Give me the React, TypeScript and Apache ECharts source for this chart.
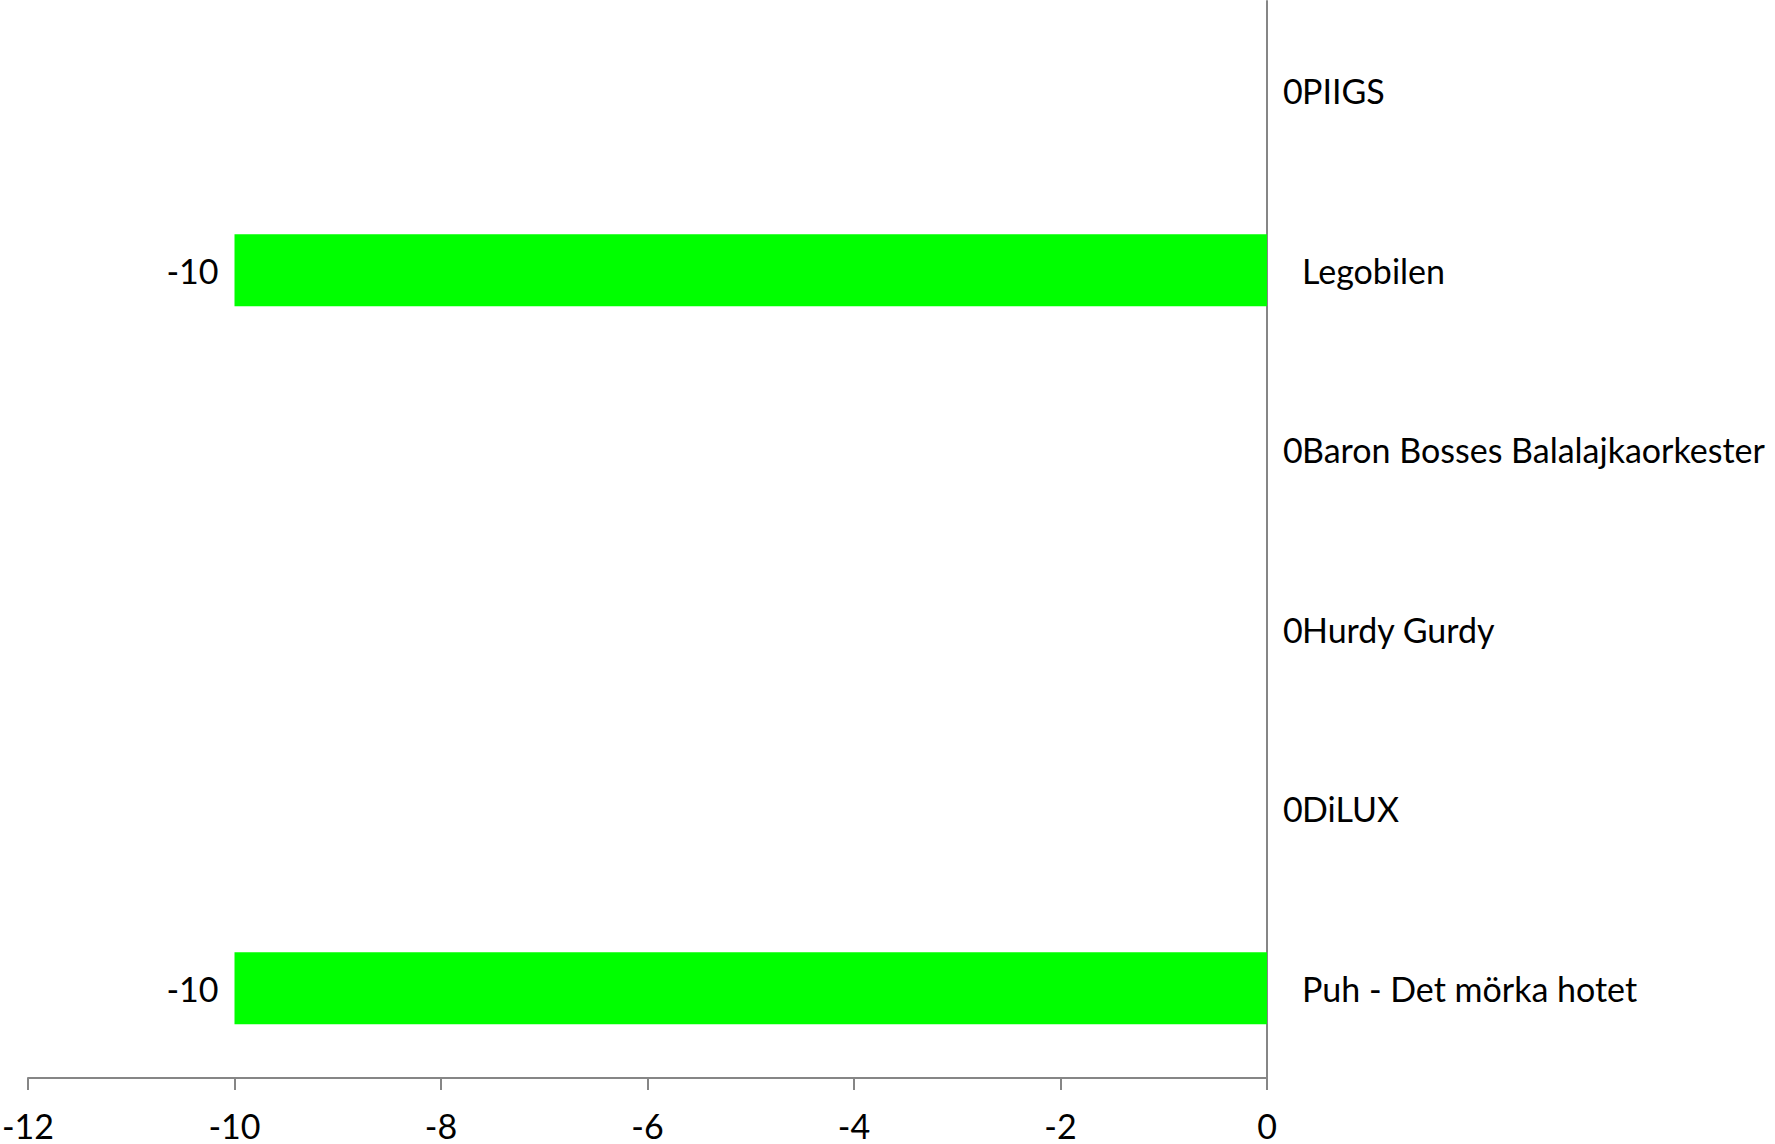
import React, { useEffect, useRef } from "react";
import * as echarts from "echarts";

const categories = [
  "PIIGS",
  "Legobilen",
  "Baron Bosses Balalajkaorkester",
  "Hurdy Gurdy",
  "DiLUX",
  "Puh - Det mörka hotet",
];
const values = [0, -10, 0, 0, 0, -10];
const xMin = -12;
const xMax = 0;
const xInterval = 2;

const FONT = "Lato";
const FS = 34;

export default function App() {
  const ref = useRef<HTMLDivElement>(null);
  useEffect(() => {
    if (!ref.current) return;
    const chart = echarts.init(ref.current, undefined, { renderer: "svg" });
    chart.setOption({
      animation: false,
      backgroundColor: "#ffffff",
      grid: {
        left: 28,
        right: 508,
        top: 1,
        bottom: 66,
        containLabel: false,
        outerBoundsMode: "none",
      },
      xAxis: {
        type: "value",
        min: xMin,
        max: xMax,
        interval: xInterval,
        axisLine: { show: true, lineStyle: { color: "#868686", width: 2 } },
        axisTick: { show: true, length: 12, lineStyle: { color: "#868686", width: 2 } },
        splitLine: { show: false },
        axisLabel: {
          color: "#000",
          fontFamily: FONT,
          fontSize: FS,
          margin: 30,
        },
      },
      yAxis: {
        type: "category",
        data: categories,
        inverse: true,
        position: "right",
        axisLine: { show: true, onZero: false, lineStyle: { color: "#868686", width: 2 } },
        axisTick: { show: false },
        splitLine: { show: false },
        axisLabel: {
          color: "#000",
          fontFamily: FONT,
          fontSize: FS,
          margin: 35,
          align: "left",
        },
      },
      series: [
        {
          type: "bar",
          barCategoryGap: "60%",
          itemStyle: { color: "#00ff00" },
          data: values.map((v) => ({
            value: v,
            label: {
              show: true,
              position: v < 0 ? "left" : "right",
              distance: v < 0 ? 16 : 16,
              color: "#000",
              fontFamily: FONT,
              fontSize: FS,
            },
          })),
        },
      ],
    });
    return () => chart.dispose();
  }, []);
  return (
    <div
      ref={ref}
      style={{ position: "fixed", left: 0, top: 0, width: 1775, height: 1144 }}
    />
  );
}
